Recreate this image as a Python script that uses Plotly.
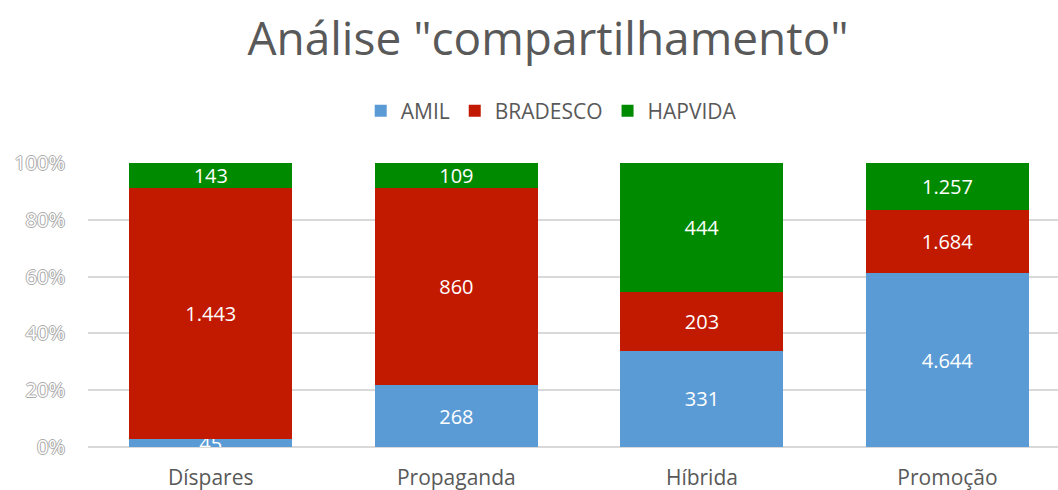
import plotly.graph_objects as go

categories = ["Díspares", "Propaganda", "Híbrida", "Promoção"]
amil = [45, 268, 331, 4644]
bradesco = [1443, 860, 203, 1684]
hapvida = [143, 109, 444, 1257]
y_ticks = [0, 20, 40, 60, 80, 100]
y_tick_labels = ["0%", "20%", "40%", "60%", "80%", "100%"]

def fmt(v):
    return f"{v:,}".replace(",", ".")

series = [("AMIL", amil, "#5B9BD5"), ("BRADESCO", bradesco, "#C21A00"), ("HAPVIDA", hapvida, "#008A00")]

FONT = "Open Sans"
fig = go.Figure()
for name, vals, col in series:
    fig.add_trace(go.Bar(
        x=categories, y=vals, name=name, marker=dict(color=col, line=dict(width=0)),
        text=[fmt(v) for v in vals], textposition="inside", insidetextanchor="middle",
        textangle=0, constraintext="none",
        textfont=dict(color="white", size=20, family=FONT),
        hoverinfo="skip",
    ))

fig.update_layout(
    barmode="stack", barnorm="percent", bargap=0.336,
    width=1058, height=490,
    margin=dict(l=88, r=0, t=163, b=43, autoexpand=False),
    paper_bgcolor="white", plot_bgcolor="white",
    title=dict(text='Análise "compartilhamento"', x=0.518, xanchor="center", xref="container",
               yref="container", y=1 - 39 / 490, yanchor="middle",
               font=dict(family=FONT, size=46, color="#595959")),
    legend=dict(orientation="h", xref="container", x=0.521, xanchor="center", yref="container",
                y=1 - 111 / 490, yanchor="middle",
                font=dict(family=FONT, size=21, color="#595959"), itemwidth=30, traceorder="normal"),
    uniformtext=dict(mode=False),
    showlegend=True,
)
fig.update_xaxes(range=[-0.5, 3.45], showgrid=False, showline=False, automargin=False,
                 ticks="outside", ticklen=12, tickcolor="rgba(0,0,0,0)",
                 tickfont=dict(family=FONT, size=21, color="#595959"))
fig.update_yaxes(range=[0, 100], tickvals=y_ticks, ticktext=y_tick_labels, automargin=False,
                 showgrid=True, gridcolor="#D9D9D9", gridwidth=1.5, zeroline=True, zerolinecolor="#D9D9D9",
                 zerolinewidth=1.5, ticks="outside", ticklen=18, tickcolor="rgba(0,0,0,0)",
                 tickfont=dict(family=FONT, size=20, color="white",
                               shadow="-1px 0 #AAAAAA, 1px 0 #AAAAAA, 0 -1px #AAAAAA, 0 1px #AAAAAA"))
fig.write_html("out.html", config={"displayModeBar": False},
               post_script="document.body.style.margin='0';document.body.style.overflow='hidden';")
